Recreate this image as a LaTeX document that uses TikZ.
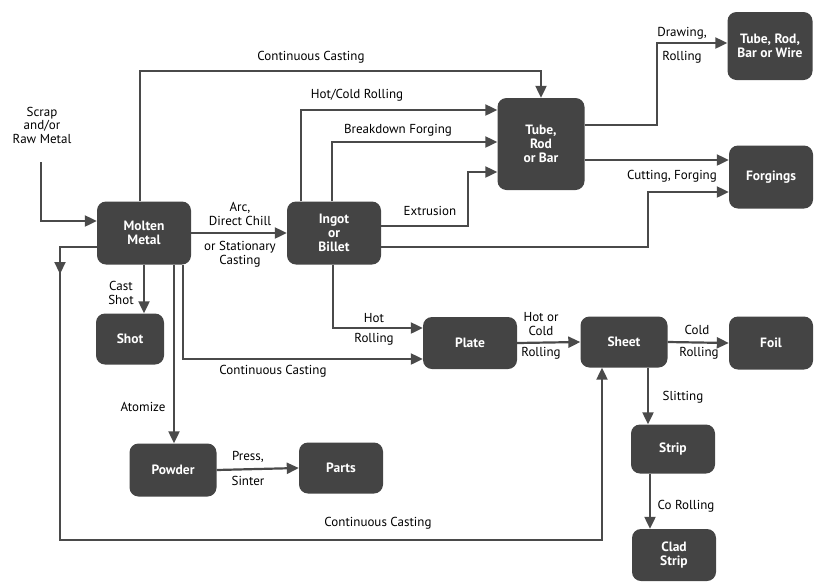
\documentclass[tikz,border=0pt]{standalone}
\usepackage{fontspec}
\setmainfont{PT Sans}
\usetikzlibrary{arrows.meta}
\definecolor{boxgray}{HTML}{444444}
\definecolor{linegray}{HTML}{4A4A4A}
\begin{document}
\begin{tikzpicture}[x=1pt,y=-1pt,
  box/.style={fill=boxgray, rounded corners=9pt, text=white, font=\bfseries\fontsize{13.5}{14}\selectfont, align=center, inner sep=0pt},
  conn/.style={draw=linegray, line width=2.2pt, -{Triangle[length=12pt,width=11pt]}},
  plain/.style={draw=linegray, line width=2.2pt},
  lbl/.style={font=\fontsize{13}{13.5}\selectfont, text=black, align=center, inner sep=1pt}]
\useasboundingbox (0,0) rectangle (815,582);
% nodes
\node[box, minimum width=94pt, minimum height=63pt] (mm) at (144,233) {Molten\\Metal};
\node[box, minimum width=94pt, minimum height=63pt] (ib) at (334,233) {Ingot\\or\\Billet};
\node[box, minimum width=87pt, minimum height=92pt] (trb) at (541,144) {Tube,\\Rod\\or Bar};
\node[box, minimum width=85pt, minimum height=68pt] (tw) at (770,46) {Tube, Rod,\\Bar or Wire};
\node[box, minimum width=84pt, minimum height=63pt] (fg) at (771,177) {Forgings};
\node[box, minimum width=68pt, minimum height=51pt] (sht) at (130,339) {Shot};
\node[box, minimum width=87pt, minimum height=53pt] (pw) at (173,470) {Powder};
\node[box, minimum width=84pt, minimum height=51pt] (pt) at (341,468) {Parts};
\node[box, minimum width=94pt, minimum height=52pt] (pl) at (470,343) {Plate};
\node[box, minimum width=87pt, minimum height=51pt] (sh) at (624,342) {Sheet};
\node[box, minimum width=84pt, minimum height=53pt] (fo) at (771,343) {Foil};
\node[box, minimum width=84pt, minimum height=49pt] (st) at (673,449) {Strip};
\node[box, minimum width=84pt, minimum height=52pt] (cs) at (674,555) {Clad\\Strip};
% scrap input
\node[lbl] (scrap) at (42,125) {Scrap\\and/or\\Raw Metal};
\coordinate (s0) at (41,162);
\draw[conn] (s0) |- (mm.west |- 0,221);
% molten -> ingot
\draw[conn] (mm.east) -- (ib.west);
\node[lbl] (l1) at (240,214) {Arc,\\Direct Chill};
\node[lbl] (l2) at (240,254) {or Stationary\\Casting};
% top continuous casting
\draw[conn] (mm.north -| 140,0) |- (541,71) -- (trb.north);
\node[lbl] (l3) at (311,57) {Continuous Casting};
% hot/cold rolling
\draw[conn] (ib.north -| 301,0) |- (trb.west |- 0,110);
\node[lbl] (l4) at (357,95) {Hot/Cold Rolling};
% breakdown forging
\draw[conn] (ib.north -| 332,0) |- (trb.west |- 0,142);
\node[lbl] (l5) at (398,130) {Breakdown Forging};
% extrusion
\draw[conn] (ib.east |- 0,226) -- (468,226) |- (trb.west |- 0,172);
\node[lbl] (l6) at (430,211) {Extrusion};
% ingot -> forgings
\draw[conn] (ib.east |- 0,247) -- (648,247) |- (fg.west |- 0,192);
% tube -> forgings
\draw[conn] (trb.east |- 0,160) -- (fg.west |- 0,160);
\node[lbl] (l7) at (672,176) {Cutting, Forging};
% tube -> wire
\draw[conn] (trb.east |- 0,125) -- (657,125) |- (tw.west |- 0,43);
\node[lbl] (l8) at (682,33) {Drawing,};
\node[lbl] (l8b) at (682,57) {Rolling};
% bottom continuous casting loop
\draw[plain] (mm.west |- 0,247) -| (60,540) -| (602,540) -- (602,380);
\draw[conn] (602,390) -- (sh.south -| 602,0);
\draw[conn] (60,250) -- (60,274);
\node[lbl] (l9) at (378,523) {Continuous Casting};
% cast shot
\draw[conn] (mm.south -| 144,0) -- (sht.north -| 144,0);
\node[lbl] (l10) at (121,293) {Cast\\Shot};
% atomize
\draw[conn] (mm.south -| 174,0) -- (pw.north -| 174,0);
\node[lbl] (l11) at (143,407) {Atomize};
% continuous casting to plate
\draw[conn] (mm.south -| 183,0) |- (pl.west |- 0,359);
\node[lbl] (l12) at (273,371) {Continuous Casting};
% ingot -> plate
\draw[conn] (ib.south -| 333,0) |- (pl.west |- 0,328);
\node[lbl] (l13) at (374,318) {Hot};
\node[lbl] (l14) at (374,339) {Rolling};
% plate -> sheet
\draw[conn] (pl.east) -- (sh.west);
\node[lbl] (l15) at (541,324) {Hot or\\Cold};
\node[lbl] (l16) at (541,353) {Rolling};
% sheet -> foil
\draw[conn] (sh.east) -- (fo.west);
\node[lbl] (l17) at (697,330) {Cold};
\node[lbl] (l18) at (699,353) {Rolling};
% sheet -> strip
\draw[conn] (sh.south -| 648,0) -- (st.north -| 648,0);
\node[lbl] (l19) at (683,397) {Slitting};
% strip -> clad
\draw[conn] (st.south -| 650,0) -- (cs.north -| 650,0);
\node[lbl] (l20) at (686,506) {Co Rolling};
% powder -> parts
\draw[conn] (pw.east) -- (pt.west);
\node[lbl] (l21) at (248,457) {Press,};
\node[lbl] (l22) at (248,481) {Sinter};
\end{tikzpicture}
\end{document}
